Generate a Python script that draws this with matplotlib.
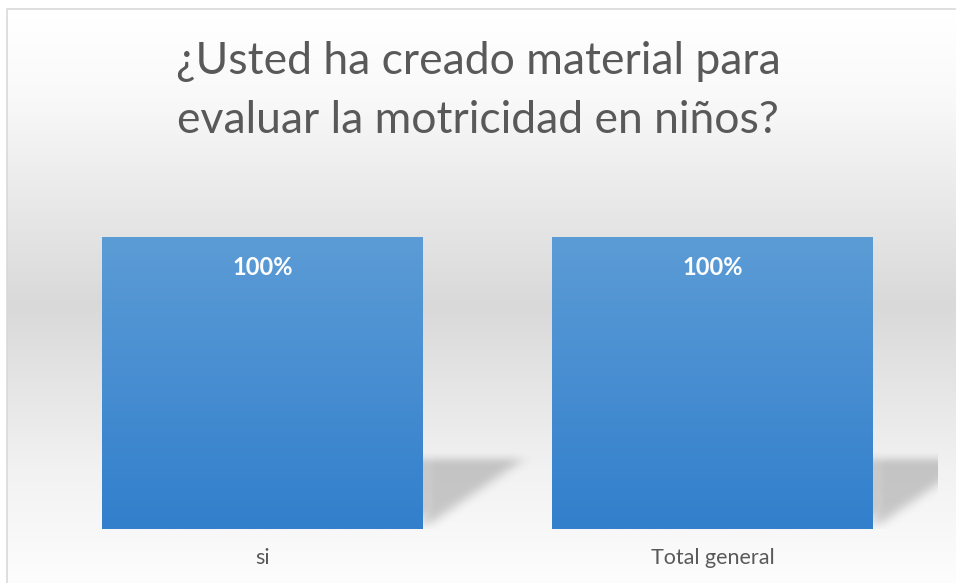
import numpy as np
import matplotlib
matplotlib.use("Agg")
import matplotlib.pyplot as plt

plt.rcParams['font.family'] = ['Lato', 'DejaVu Sans']

title = "¿Usted ha creado material para\nevaluar la motricidad en niños?"
categories = ["si", "Total general"]
values = [1.0, 1.0]
labels = ["100%", "100%"]

W, H = 956, 583
fig = plt.figure(figsize=(W / 100, H / 100), dpi=100)

# background: white -> gray -> white gradient, chart frame at left/top
bg = fig.add_axes([0, 0, 1, 1])
bg.set_xlim(0, W)
bg.set_ylim(H, 0)
bg.axis("off")
ys = np.linspace(0, H, 600)
stops_y = [0, 9, 90, 300, 470, 583]
stops_v = [255, 255, 249, 217, 242, 253]
col = np.interp(ys, stops_y, stops_v) / 255
grad = np.repeat(col[:, None], 2, axis=1)
bg.imshow(np.dstack([grad, grad, grad]), extent=[7, W, H, 9], aspect="auto", zorder=0)
bg.plot([7, 7, W], [H, 9, 9], color="#d9d9d9", lw=1.2, zorder=1)

fig.text(0.5, 1 - 91 / H, title, ha="center", va="center", fontsize=32,
         color="#595959", linespacing=1.55)

# plot area: x -0.5..1.5 mapped to px 37..938, y 0..1 mapped to px 529..237
ax = fig.add_axes([37 / W, 1 - 529 / H, 901 / W, 292 / H])
ax.axis("off")
ax.patch.set_alpha(0)

bw = 0.7125
top_c = np.array([92, 156, 214]) / 255
bot_c = np.array([50, 127, 204]) / 255
t = np.linspace(0, 1, 200)[:, None]
bar_grad = (top_c * (1 - t) + bot_c * t)[:, None, :]

# blurred perspective shadows to the right of each bar
gx = np.linspace(-0.5, 1.65, 970)
gy = np.linspace(0, 0.4, 117)
XX, YY = np.meshgrid(gx, gy)
mask = np.zeros_like(XX)
for i, v in enumerate(values):
    xr = i + bw / 2
    sh_w, sh_h = 0.225, 0.24 * v
    inside = (XX >= xr) & (YY <= sh_h) & (YY >= (XX - xr) / sh_w * sh_h)
    mask[inside] = 1.0
kx = np.ones(15) / 15
ky = np.ones(9) / 9
for _ in range(2):
    mask = np.apply_along_axis(lambda r: np.convolve(r, kx, mode="same"), 1, mask)
    mask = np.apply_along_axis(lambda c: np.convolve(c, ky, mode="same"), 0, mask)
# re-cut the shadow edge next to each bar so it starts sharply
for i, v in enumerate(values):
    xr = i + bw / 2
    near = (gx >= xr) & (gx < xr + 0.03)
    mask[:, near] = np.maximum(mask[:, near], mask[:, np.argmax(gx >= xr + 0.03)][:, None] * 0.9)
mask[:, gx > 1 + bw / 2 + 68 / 450.5] = 0
shadow = np.zeros(mask.shape + (4,))
shadow[..., :3] = 0.35
shadow[..., 3] = mask * 0.3
ax.imshow(shadow, extent=[gx[0], gx[-1], 0, gy[-1]], origin="lower", aspect="auto", zorder=1)

for i, (v, lab) in enumerate(zip(values, labels)):
    ax.imshow(bar_grad, extent=[i - bw / 2, i + bw / 2, 0, v], aspect="auto", zorder=2)
    ax.text(i, v - 0.105, lab, ha="center", va="center", color="white",
            fontsize=17, fontweight="bold", zorder=3)
    ax.text(i, -0.1, categories[i], ha="center", va="center", color="#595959",
            fontsize=15.5, clip_on=False)

ax.set_xlim(-0.5, 1.5)
ax.set_ylim(0, 1)

fig.savefig("out.png", dpi=100)
